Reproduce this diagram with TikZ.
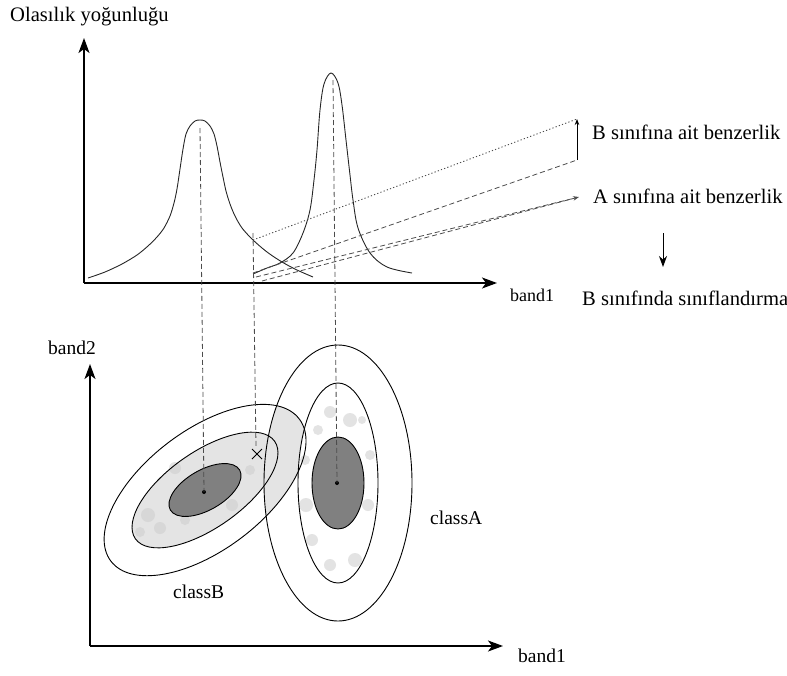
\documentclass[tikz,border=0pt]{standalone}
\usepackage{fontspec}
\setmainfont{Liberation Serif}
\usetikzlibrary{arrows.meta,calc}
\definecolor{lightg}{RGB}{228,228,228}
\definecolor{innerg}{RGB}{128,128,128}
\definecolor{speck}{RGB}{205,205,205}
\begin{document}
\begin{tikzpicture}[x=1pt,y=-1pt,
  axis/.style={line width=1.5pt,-{Stealth[length=15pt,width=11pt,inset=4pt]}},
  curve/.style={line width=0.9pt,black!85},
  vdash/.style={line width=0.8pt,black!70,dash pattern=on 5pt off 3pt},
  proj/.style={line width=0.8pt,black!70,dash pattern=on 5pt off 3pt},
  projdot/.style={line width=0.9pt,black!70,dash pattern=on 1.2pt off 2.2pt},
  smalltip/.style={-{Stealth[length=6pt,width=4.5pt]}},
  lbl/.style={font=\fontsize{19.5}{22}\selectfont,inner sep=0pt,anchor=base west},
  biglbl/.style={lbl,font=\fontsize{20.6}{24}\selectfont},
  smalllbl/.style={lbl,font=\fontsize{18}{21}\selectfont},
  ring/.style={line width=0.9pt,black},
  blob/.style={fill=speck,opacity=0.55}
]
\useasboundingbox (0,0) rectangle (787,675);

% ---------- top graph ----------
\coordinate (O1) at (84,283);
\coordinate (Y1) at (84,38);
\coordinate (X1) at (497,283);
\draw[axis] (O1) -- (Y1);
\draw[axis] (O1) -- (X1);

% class B density (wide)
\draw[curve] plot[smooth,tension=0.5] coordinates {
 (88,278) (105,272) (122,264) (137,255) (148,246) (157,237) (164,228)
 (170,216) (174,203) (177,189) (180,169) (183,149) (186,134) (190,126)
 (195,121) (200,120) (205,121) (210,126) (214,134) (217,146) (220,162)
 (223,177) (226,191) (230,204) (235,216) (242,228) (253,240) (267,252)
 (282,262) (297,270) (313,277)};
% class A density (narrow)
\draw[curve] plot[smooth,tension=0.55] coordinates {
 (253,274) (267,268) (280,263) (293,253) (303,233) (310,210) (314,180)
 (317,150) (320,110) (324,84) (331,73) (338,83) (342,105) (346,140)
 (350,175) (353,200) (358,228) (370,253) (387,267) (412,273)};

% projections to the likelihoods
\coordinate (pB) at (253,240);
\coordinate (pA) at (253,273);
\coordinate (bt) at (577,119);
\coordinate (bb) at (577,160);
\coordinate (q1) at (256,277);
\coordinate (q2) at (262,281);
\coordinate (qa) at (579,197);
\draw[projdot] (pB) -- (bt);
\draw[proj] (pA) -- (bb);
\draw[line width=0.8pt,smalltip] (bb) -- (bt);
\draw[proj] (q2) -- (qa);
\draw[proj,smalltip] (q1) -- (qa);

% texts
\node[biglbl] (ylab) at (10,21) {Olasılık yoğunluğu};
\node[smalllbl] (x1lab) at (510,301) {band1};
\node[biglbl] (lB) at (592,139) {B sınıfına ait benzerlik};
\node[biglbl] (lA) at (593,203) {A sınıfına ait benzerlik};
\node[biglbl] (res) at (582,305) {B sınıfında sınıflandırma};
\coordinate (d1) at (663,233);
\coordinate (d2) at (663,267);
\draw[line width=0.9pt,-{Stealth[length=11pt,width=8pt]}] (d1) -- (d2);

% ---------- bottom graph ----------
\coordinate (O2) at (90,646);
\coordinate (Y2) at (90,364);
\coordinate (X2) at (503,646);
\draw[axis] (O2) -- (Y2);
\draw[axis] (O2) -- (X2);
\node[lbl] (y2lab) at (48,354) {band2};
\node[lbl] (x2lab) at (518,662) {band1};

\coordinate (cB) at (205,490);
\coordinate (cA) at (338,483);

% light grey overlap of the outer contours
\begin{scope}
  \clip (cA) ellipse [x radius=74,y radius=138];
  \fill[lightg,rotate around={37:(cB)}] (cB) ellipse [x radius=118,y radius=60];
\end{scope}
\fill[white] (cA) ellipse [x radius=40,y radius=100];
% middle B filled light grey
\fill[lightg,rotate around={35:(cB)}] (cB) ellipse [x radius=85,y radius=38];

% speckles
\foreach \p/\r in {(330,412)/6,(350,420)/7,(318,430)/5,(305,460)/5,(306,505)/7,(312,540)/6,
  (368,505)/6,(370,455)/5,(330,565)/6,(355,560)/7,(362,420)/4}
  \fill[blob] \p circle (\r);
\foreach \p/\r in {(148,515)/7,(160,528)/6,(140,532)/5,(175,468)/6,(250,470)/5,(232,505)/6,(185,520)/5}
  \fill[blob] \p circle (\r);

% inner cores
\fill[innerg,rotate around={30:(cB)}] (cB) ellipse [x radius=40,y radius=20];
\fill[innerg] (cA) ellipse [x radius=26,y radius=46];

% contour lines
\draw[ring,rotate around={37:(cB)}] (cB) ellipse [x radius=118,y radius=60];
\draw[ring,rotate around={35:(cB)}] (cB) ellipse [x radius=85,y radius=38];
\draw[ring,rotate around={30:(cB)}] (cB) ellipse [x radius=40,y radius=20];
\draw[ring] (cA) ellipse [x radius=74,y radius=138];
\draw[ring] (cA) ellipse [x radius=40,y radius=100];
\draw[ring] (cA) ellipse [x radius=26,y radius=46];

% centres and the unknown pixel
\coordinate (dB) at (204,492);
\coordinate (dA) at (337,483);
\fill (dB) circle (2);
\fill (dA) circle (2);
\coordinate (xp) at (257,454);
\draw[line width=1pt] ($(xp)+(-5,-5)$) -- ($(xp)+(5,5)$);
\draw[line width=1pt] ($(xp)+(-5,5)$) -- ($(xp)+(5,-5)$);

% vertical projection lines
\coordinate (tB) at (200,128);
\coordinate (tX) at (253,233);
\coordinate (tA) at (333,80);
\coordinate (eX) at (256,447);
\draw[vdash] (tB) -- (dB);
\draw[vdash] (tX) -- (eX);
\draw[vdash] (tA) -- (dA);

\node[lbl] (cAlab) at (430,524) {classA};
\node[lbl] (cBlab) at (173,598) {classB};
\end{tikzpicture}
\end{document}
